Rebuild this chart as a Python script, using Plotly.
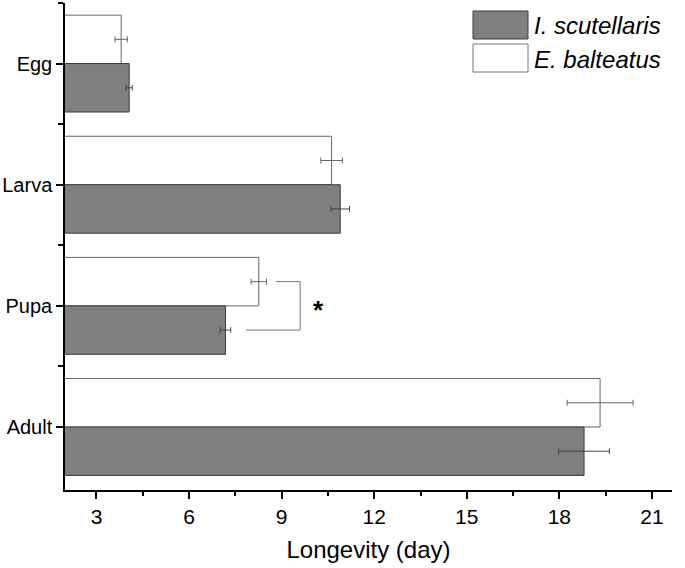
import plotly.graph_objects as go

stages = ["Egg", "Larva", "Pupa", "Adult"]
i_scut = [4.06, 10.9, 7.18, 18.8]
i_scut_err = [0.1, 0.3, 0.17, 0.82]
e_balt = [3.8, 10.62, 8.26, 19.32]
e_balt_err = [0.2, 0.35, 0.25, 1.07]
x_ticks = [3, 6, 9, 12, 15, 18, 21]

ypos = list(range(len(stages)))

W, H = 685, 568
ML, MR, MT, MB = 65, 13, 3, 78
PW, PH = W - ML - MR, H - MT - MB

def px(x):
    return (x - ML) / PW

def py(y):
    return (H - MB - y) / PH

NARROW = "Liberation Sans Narrow, Arial Narrow, Liberation Sans"

fig = go.Figure()
fig.add_trace(go.Bar(
    y=ypos, x=e_balt, orientation="h", name="E. balteatus",
    marker=dict(color="white", line=dict(color="#666666", width=1)),
    error_x=dict(type="data", array=e_balt_err, color="#666666", thickness=1, width=3),
    showlegend=False,
))
fig.add_trace(go.Bar(
    y=ypos, x=i_scut, orientation="h", name="I. scutellaris",
    marker=dict(color="#7f7f7f", line=dict(color="#3c3c3c", width=1)),
    error_x=dict(type="data", array=i_scut_err, color="#444444", thickness=1, width=3),
    showlegend=False,
))

# significance bracket for Pupa
k = stages.index("Pupa")
top_y = k - 0.2
bot_y = k + 0.2
x_top = e_balt[k] + e_balt_err[k] + 0.3
x_bot = i_scut[k] + i_scut_err[k] + 0.5
x_v = 9.6
line = dict(color="#777777", width=1)
fig.add_shape(type="line", x0=x_top, x1=x_v, y0=top_y, y1=top_y, line=line)
fig.add_shape(type="line", x0=x_bot, x1=x_v, y0=bot_y, y1=bot_y, line=line)
fig.add_shape(type="line", x0=x_v, x1=x_v, y0=top_y, y1=bot_y, line=line)
fig.add_annotation(x=x_v + 0.6, y=k + 0.03, text="<b>*</b>", showarrow=False,
                   font=dict(size=26, color="black", family="Liberation Sans"))

# manual legend
entries = [("I. scutellaris", "#7f7f7f", "#3c3c3c"), ("E. balteatus", "white", "#777777")]
for i, (name, fill, border) in enumerate(entries):
    y0 = 11 + i * 33
    fig.add_shape(type="rect", xref="paper", yref="paper",
                  x0=px(473), x1=px(528), y0=py(y0 + 28), y1=py(y0),
                  fillcolor=fill, line=dict(color=border, width=1))
    fig.add_annotation(xref="paper", yref="paper", x=px(532), y=py(y0 + 15),
                       xanchor="left", yanchor="middle", showarrow=False,
                       text="<i>%s</i>" % name,
                       font=dict(size=24, color="black", family="Liberation Sans"))

fig.update_layout(
    width=W, height=H,
    margin=dict(l=ML, r=MR, t=MT, b=MB, autoexpand=False),
    barmode="group", bargap=0.2, bargroupgap=0,
    plot_bgcolor="white", paper_bgcolor="white",
    font=dict(family="Liberation Sans", color="black"),
)
fig.update_xaxes(
    automargin=False,
    range=[1.98, 21.65], tickvals=x_ticks, ticks="outside", ticklen=7, tickwidth=1.5,
    tickcolor="black", showline=True, linecolor="black", linewidth=1.5,
    showgrid=False, zeroline=False,
    tickfont=dict(size=21, family=NARROW),
    title=dict(text="Longevity (day)", font=dict(size=24, family=NARROW), standoff=14),
    minor=dict(tickvals=[4.5, 7.5, 10.5, 13.5, 16.5, 19.5], ticks="outside", ticklen=4,
               tickwidth=1.5, tickcolor="black"),
)
fig.update_yaxes(
    automargin=False,
    range=[3.52, -0.5], tickvals=ypos, ticktext=stages, ticks="outside", ticklen=7,
    tickwidth=1.5, tickcolor="black", showline=True, linecolor="black", linewidth=1.5,
    showgrid=False, zeroline=False,
    tickfont=dict(size=20, family=NARROW),
    minor=dict(tickvals=[-0.5, 0.5, 1.5, 2.5], ticks="outside", ticklen=5,
               tickwidth=1.5, tickcolor="black"),
)

fig.write_html("out.html", post_script="document.body.style.margin='0px';",
               config={"displayModeBar": False})
